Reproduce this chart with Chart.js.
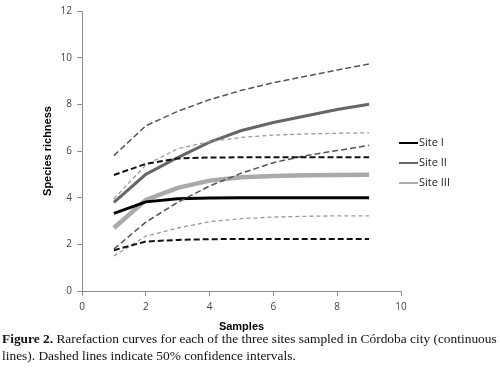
<!DOCTYPE html>
<html>
<head>
<meta charset="utf-8">
<script src="https://cdn.jsdelivr.net/npm/chart.js@4.4.1/dist/chart.umd.min.js"></script>
<style>
  html, body { margin: 0; padding: 0; background: #fff; }
  #wrap { position: relative; width: 500px; height: 370px; }
  #caption {
    position: absolute; left: 2px; top: 330px; width: 498px;
    font-family: "Liberation Serif", "Times New Roman", serif;
    font-size: 13.4px; line-height: 17px; color: #111;
  }
</style>
</head>
<body>
<div id="wrap">
  <canvas id="chart" width="500" height="334"></canvas>
  <div id="caption"><b>Figure 2.</b> Rarefaction curves for each of the three sites sampled in Córdoba city (continuous lines). Dashed lines indicate 50% confidence intervals.</div>
</div>
<script>
const samples = [1, 2, 3, 4, 5, 6, 7, 8, 9];
const xTicks = [0, 2, 4, 6, 8, 10];
const yTicks = [0, 2, 4, 6, 8, 10, 12];

const siteI = [3.33, 3.82, 3.95, 3.99, 4.0, 4.0, 4.0, 4.0, 4.0];
const siteIUpper = [4.97, 5.45, 5.68, 5.72, 5.73, 5.73, 5.73, 5.73, 5.73];
const siteILower = [1.75, 2.12, 2.19, 2.22, 2.23, 2.23, 2.23, 2.23, 2.23];

const siteII = [3.8, 5.0, 5.72, 6.38, 6.88, 7.22, 7.5, 7.78, 8.0];
const siteIIUpper = [5.8, 7.08, 7.7, 8.2, 8.6, 8.93, 9.2, 9.47, 9.73];
const siteIILower = [1.8, 2.95, 3.8, 4.5, 5.05, 5.5, 5.8, 6.02, 6.24];

const siteIII = [2.7, 3.9, 4.42, 4.73, 4.87, 4.93, 4.96, 4.97, 4.98];
const siteIIIUpper = [3.95, 5.4, 6.1, 6.4, 6.58, 6.68, 6.73, 6.76, 6.78];
const siteIIILower = [1.5, 2.35, 2.7, 2.97, 3.1, 3.17, 3.2, 3.22, 3.22];

const toPoints = (arr) => arr.map((v, i) => ({ x: samples[i], y: v }));

const solid = (label, values, color, width) => ({
  label, data: toPoints(values), borderColor: color, backgroundColor: color,
  borderWidth: width, pointRadius: 0, showLine: true, tension: 0, legend: true,
});
const dashed = (label, values, color, width, dash) => ({
  label, data: toPoints(values), borderColor: color, backgroundColor: color,
  borderWidth: width, borderDash: dash, pointRadius: 0, showLine: true, tension: 0, legend: false,
});

// legend drawn to the right of the plot, like the original
const sideLegend = {
  id: 'sideLegend',
  afterDraw(chart) {
    const ctx = chart.ctx;
    const items = chart.data.datasets.filter((d) => d.legend);
    const x0 = 399, len = 19, y0 = 143, step = 20;
    ctx.save();
    ctx.font = '11px "Open Sans", "Liberation Sans", sans-serif';
    ctx.textBaseline = 'middle';
    items.forEach((d, i) => {
      const y = y0 + i * step;
      ctx.strokeStyle = d.borderColor;
      ctx.lineWidth = 2;
      ctx.beginPath();
      ctx.moveTo(x0, y);
      ctx.lineTo(x0 + len, y);
      ctx.stroke();
      ctx.fillStyle = '#222';
      ctx.fillText(d.label, x0 + len + 1, y);
    });
    ctx.restore();
  },
};

const axisColor = '#8c8c8c';
const tickFont = { family: '"Open Sans", "Liberation Sans", sans-serif', size: 10 };
const titleFont = { family: '"Liberation Sans", Arial, sans-serif', size: 11, weight: 'bold' };

new Chart(document.getElementById('chart'), {
  type: 'scatter',
  data: {
    datasets: [
      dashed('Site I upper', siteIUpper, '#111', 2, [6, 3]),
      dashed('Site I lower', siteILower, '#111', 2, [6, 3]),
      dashed('Site II upper', siteIIUpper, '#555', 1.5, [6, 3]),
      dashed('Site II lower', siteIILower, '#555', 1.5, [6, 3]),
      dashed('Site III upper', siteIIIUpper, '#9a9a9a', 1.3, [4, 3]),
      dashed('Site III lower', siteIIILower, '#9a9a9a', 1.3, [4, 3]),
      solid('Site I', siteI, '#000', 3),
      solid('Site II', siteII, '#666', 3),
      solid('Site III', siteIII, '#aaaaaa', 4.5),
    ],
  },
  options: {
    responsive: false,
    animation: false,
    layout: { padding: { left: 0, right: 99, top: 11, bottom: 0 } },
    plugins: {
      legend: { display: false },
      tooltip: { enabled: false },
    },
    scales: {
      x: {
        type: 'linear',
        min: 0,
        max: 10,
        afterBuildTicks: (scale) => { scale.ticks = xTicks.map((v) => ({ value: v })); },
        afterFit: (scale) => { scale.height = 43; },
        grid: { drawOnChartArea: false, drawTicks: true, tickLength: 5, color: axisColor },
        border: { display: true, color: axisColor, width: 1 },
        ticks: { color: '#444', font: tickFont, padding: 5, maxRotation: 0 },
        title: { display: true, text: 'Samples', color: '#000', font: titleFont, padding: { top: 0, bottom: 0 } },
      },
      y: {
        type: 'linear',
        min: 0,
        max: 12,
        afterBuildTicks: (scale) => { scale.ticks = yTicks.map((v) => ({ value: v })); },
        afterFit: (scale) => { scale.width = 82; },
        grid: { drawOnChartArea: false, drawTicks: true, tickLength: 5, color: axisColor },
        border: { display: true, color: axisColor, width: 1 },
        ticks: { color: '#444', font: tickFont, padding: 5 },
        title: { display: true, text: 'Species richness', color: '#000', font: titleFont, padding: { top: 41, bottom: 0 } },
      },
    },
  },
  plugins: [sideLegend],
});
</script>
</body>
</html>
